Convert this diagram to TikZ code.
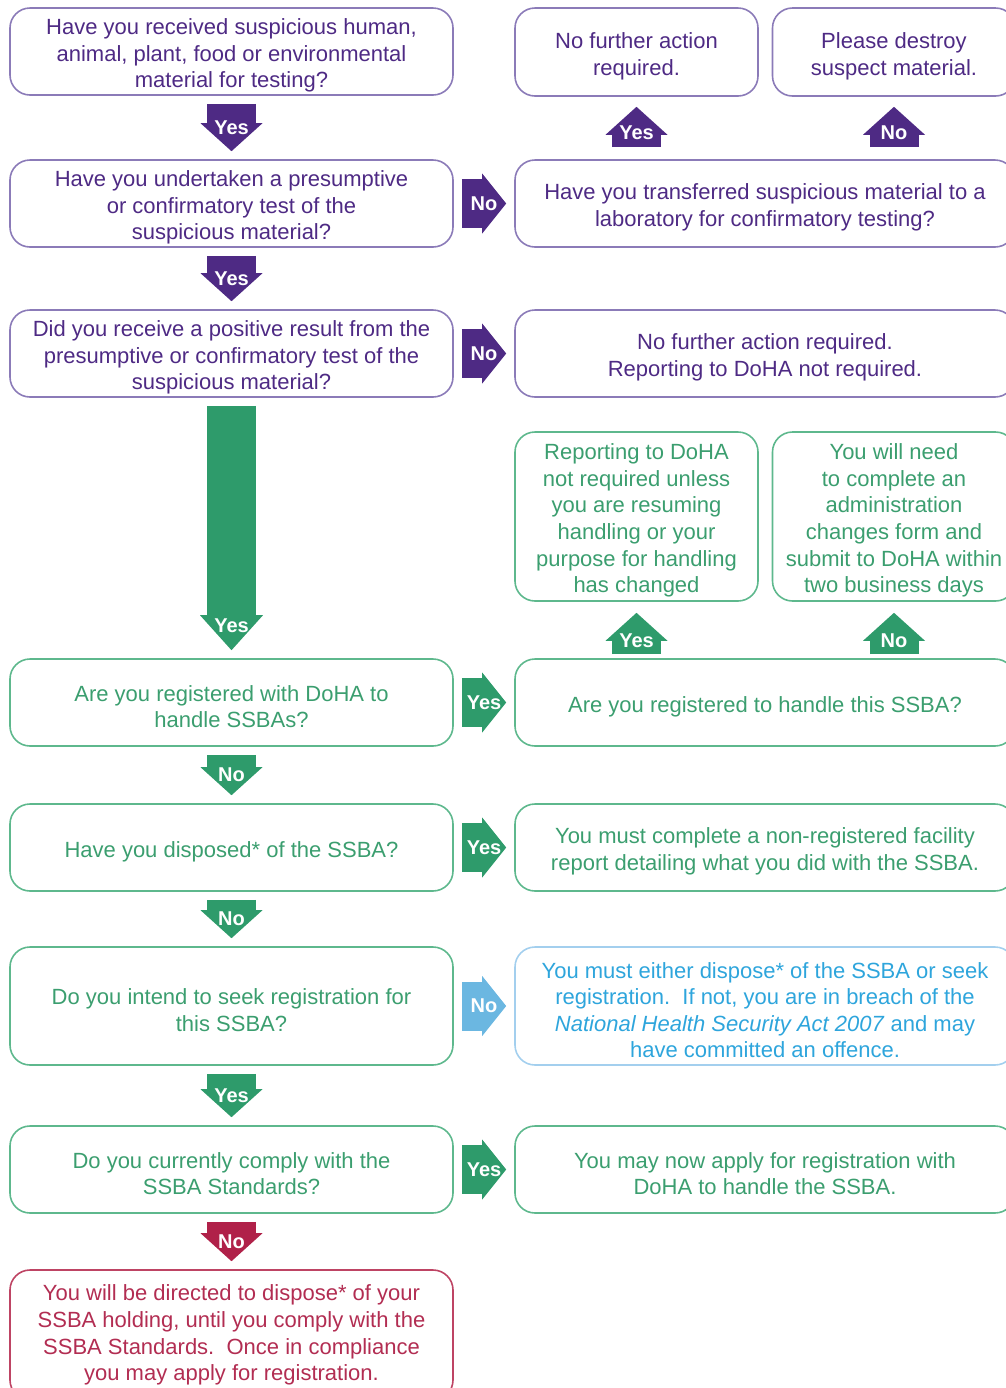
\documentclass[tikz,border=0pt]{standalone}
\usepackage{fontspec}
\setmainfont{Liberation Sans}
\usetikzlibrary{arrows.meta}
\definecolor{purp}{HTML}{4E2A84}
\definecolor{purpline}{HTML}{8B7BB8}
\definecolor{grn}{HTML}{2E9B6B}
\definecolor{grntext}{HTML}{3B9E6F}
\definecolor{grnline}{HTML}{5EB88D}
\definecolor{blu}{HTML}{6BB7E1}
\definecolor{blutext}{HTML}{2EA5DC}
\definecolor{bluline}{HTML}{A3CFEE}
\definecolor{rd}{HTML}{B02149}
\definecolor{rdtext}{HTML}{B22D52}
\definecolor{rdline}{HTML}{BE4464}
\newcommand{\upgap}{\rule{0pt}{12pt}}
\begin{document}
\begin{tikzpicture}[x=0.5pt,y=-0.5pt]
\tikzstyle{every node}+=[inner sep=0pt]
\tikzstyle{box}=[draw, rounded corners=10pt, line width=0.8pt, align=center, font=\fontsize{11}{13.3}\selectfont]
\tikzstyle{lbox}=[box, minimum width=221.5pt, minimum height=43.5pt]
\tikzstyle{rbox}=[box, minimum width=250pt, minimum height=43.5pt]
\tikzstyle{sbox}=[box, minimum width=121.5pt, minimum height=44pt]
\tikzstyle{pbox}=[draw=purpline, text=purp]
\tikzstyle{gbox}=[draw=grnline, text=grntext]
\tikzstyle{bbox}=[draw=bluline, text=blutext]
\tikzstyle{redbox}=[draw=rdline, text=rdtext]
\tikzstyle{blk}=[line width=24.5pt, -{Triangle[width=31pt,length=14pt,line width=0pt]}, shorten <=4pt, shorten >=4pt]
\tikzstyle{tag}=[text=white, font=\bfseries\fontsize{10}{12}\selectfont]
\useasboundingbox (0,0) rectangle (1006,1388);
\clip (0,0) rectangle (1006,1388);
\node [lbox, pbox] (q1) at (231.5,51.5) {\upgap Have you received suspicious human,\\animal, plant, food or environmental\\material for testing?};
\node [lbox, pbox] (q2) at (231.5,203.5) {\upgap Have you undertaken a presumptive\\or confirmatory test of the\\suspicious material?};
\node [lbox, pbox] (q3) at (231.5,353.5) {\upgap Did you receive a positive result from the\\presumptive or confirmatory test of the\\suspicious material?};
\node [lbox, gbox] (q4) at (231.5,702.5) {\upgap Are you registered with DoHA to\\handle SSBAs?};
\node [lbox, gbox] (q5) at (231.5,847.5) {\upgap Have you disposed* of the SSBA?};
\node [lbox, gbox, minimum height=59pt] (q6) at (231.5,1006) {\upgap Do you intend to seek registration for\\this SSBA?};
\node [lbox, gbox] (q7) at (231.5,1169.5) {\upgap Do you currently comply with the\\SSBA Standards?};
\node [lbox, redbox, minimum height=65pt] (q8) at (231.5,1335) {You will be directed to dispose* of your\\SSBA holding, until you comply with the\\SSBA Standards.\ \ Once in compliance\\you may apply for registration.};
\node [sbox, pbox] (r1a) at (636.5,52) {\upgap No further action\\required.};
\node [sbox, pbox] (r1b) at (894,52) {\upgap Please destroy\\suspect material.};
\node [rbox, pbox] (r2) at (765,203.5) {\upgap Have you transferred suspicious material to a\\laboratory for confirmatory testing?};
\node [rbox, pbox] (r3) at (765,353.5) {\upgap No further action required.\\Reporting to DoHA not required.};
\node [sbox, gbox, minimum height=84.5pt] (r4a) at (636.5,516.5) {\upgap Reporting to DoHA\\not required unless\\you are resuming\\handling or your\\purpose for handling\\has changed};
\node [sbox, gbox, minimum height=84.5pt] (r4b) at (894,516.5) {\upgap You will need\\to complete an\\administration\\changes form and\\submit to DoHA within\\two business days};
\node [rbox, gbox] (r5) at (765,702.5) {\upgap Are you registered to handle this SSBA?};
\node [rbox, gbox] (r6) at (765,847.5) {\upgap You must complete a non-registered facility\\report detailing what you did with the SSBA.};
\node [rbox, bbox, minimum height=59pt] (r7) at (765,1006) {\upgap You must either dispose* of the SSBA or seek\\registration.\ \ If not, you are in breach of the\\\textit{National Health Security Act 2007} and may\\have committed an offence.};
\node [rbox, gbox] (r8) at (765,1169.5) {\upgap You may now apply for registration with\\DoHA to handle the SSBA.};
\draw [blk, purp] (q1) -- (q2) node [tag, midway] {Yes};
\draw [blk, purp] (q2) -- (q3) node [tag, midway] {Yes};
\draw [blk, grn, -{Triangle[width=31.5pt,length=17.5pt,line width=0pt]}] (q3) -- (q4) node [tag, pos=0.875] {Yes};
\draw [blk, grn] (q4) -- (q5) node [tag, midway] {No};
\draw [blk, grn] (q5) -- (q6) node [tag, midway] {No};
\draw [blk, grn] (q6) -- (q7) node [tag, midway] {Yes};
\draw [blk, rd] (q7) -- (q8) node [tag, midway] {No};
\draw [blk, purp, -{Triangle[width=30pt,length=12pt,line width=0pt]}] (q2) -- (r2) node [tag, midway] {No};
\draw [blk, purp, -{Triangle[width=30pt,length=12pt,line width=0pt]}] (q3) -- (r3) node [tag, midway] {No};
\draw [blk, grn, -{Triangle[width=30pt,length=12pt,line width=0pt]}] (q4) -- (r5) node [tag, midway] {Yes};
\draw [blk, grn, -{Triangle[width=30pt,length=12pt,line width=0pt]}] (q5) -- (r6) node [tag, midway] {Yes};
\draw [blk, blu, -{Triangle[width=30pt,length=12pt,line width=0pt]}] (q6) -- (r7) node [tag, midway] {No};
\draw [blk, grn, -{Triangle[width=30pt,length=12pt,line width=0pt]}] (q7) -- (r8) node [tag, midway] {Yes};
\draw [blk, purp, shorten <=6pt, shorten >=5pt] (r1a.south |- r2.north) -- (r1a) node [tag, pos=0.42] {Yes};
\draw [blk, purp, shorten <=6pt, shorten >=5pt] (r1b.south |- r2.north) -- (r1b) node [tag, pos=0.42] {No};
\draw [blk, grn, shorten <=2pt, shorten >=5.5pt] (r4a.south |- r5.north) -- (r4a) node [tag, pos=0.31] {Yes};
\draw [blk, grn, shorten <=2pt, shorten >=5.5pt] (r4b.south |- r5.north) -- (r4b) node [tag, pos=0.31] {No};
\end{tikzpicture}
\end{document}
